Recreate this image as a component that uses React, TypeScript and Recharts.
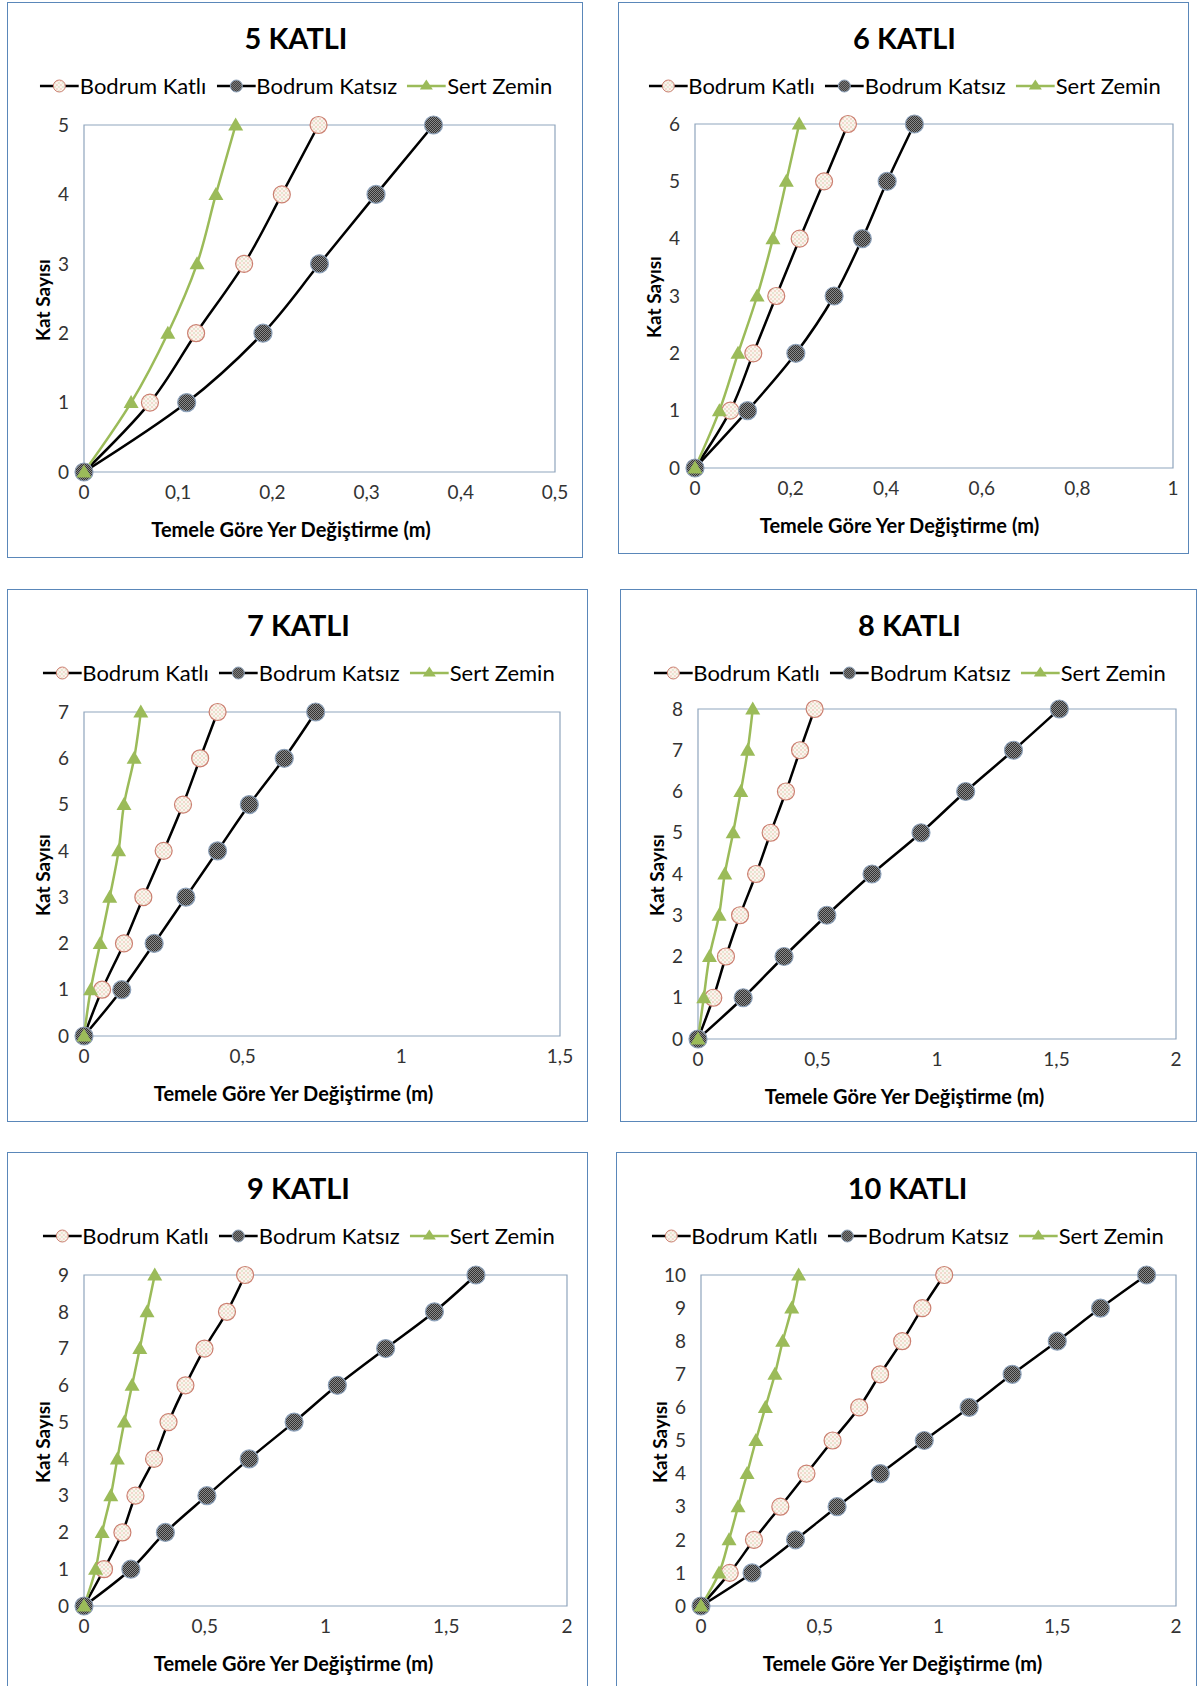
import { LineChart, Line, XAxis, YAxis, ReferenceArea } from "recharts";

// displacement (m) per floor
const katli5 = [0, 0.07, 0.119, 0.17, 0.21, 0.249];
const katsiz5 = [0, 0.109, 0.19, 0.25, 0.31, 0.371];
const sert5 = [0, 0.05, 0.089, 0.12, 0.14, 0.161];

const katli6 = [0, 0.074, 0.122, 0.17, 0.219, 0.27, 0.32];
const katsiz6 = [0, 0.11, 0.211, 0.291, 0.35, 0.402, 0.459];
const sert6 = [0, 0.051, 0.09, 0.13, 0.163, 0.191, 0.218];

const katli7 = [0, 0.057, 0.126, 0.187, 0.251, 0.312, 0.366, 0.421];
const katsiz7 = [0, 0.119, 0.221, 0.321, 0.421, 0.521, 0.631, 0.73];
const sert7 = [0, 0.021, 0.051, 0.081, 0.109, 0.126, 0.158, 0.179];

const katli8 = [0, 0.064, 0.117, 0.176, 0.243, 0.304, 0.368, 0.427, 0.488];
const katsiz8 = [0, 0.189, 0.36, 0.539, 0.728, 0.933, 1.12, 1.32, 1.512];
const sert8 = [0, 0.024, 0.048, 0.088, 0.112, 0.147, 0.179, 0.208, 0.229];

const katli9 = [0, 0.083, 0.159, 0.213, 0.29, 0.35, 0.42, 0.499, 0.592, 0.667];
const katsiz9 = [0, 0.194, 0.337, 0.509, 0.684, 0.87, 1.049, 1.249, 1.451, 1.623];
const sert9 = [0, 0.048, 0.075, 0.111, 0.138, 0.167, 0.199, 0.231, 0.261, 0.293];

const katli10 = [0, 0.121, 0.223, 0.334, 0.444, 0.554, 0.666, 0.754, 0.847, 0.932, 1.024];
const katsiz10 = [0, 0.215, 0.398, 0.573, 0.755, 0.94, 1.129, 1.31, 1.5, 1.682, 1.876];
const sert10 = [0, 0.076, 0.118, 0.156, 0.194, 0.231, 0.271, 0.311, 0.344, 0.382, 0.411];

const xTicks5 = [0, 0.1, 0.2, 0.3, 0.4, 0.5];
const xTicks6 = [0, 0.2, 0.4, 0.6, 0.8, 1];
const xTicks7 = [0, 0.5, 1, 1.5];
const xTicks2 = [0, 0.5, 1, 1.5, 2];

const seriesNames = ["Bodrum Katlı", "Bodrum Katsız", "Sert Zemin"];
const titles = ["5 KATLI", "6 KATLI", "7 KATLI", "8 KATLI", "9 KATLI", "10 KATLI"];
const xTitle = "Temele Göre Yer Değiştirme (m)";
const yTitle = "Kat Sayısı";

const FONT = "Lato, 'Open Sans', sans-serif";
const GREEN = "#9BBB59";

const panels = [
  { title: titles[0], katli: katli5, katsiz: katsiz5, sert: sert5, xTicks: xTicks5, left: 7, top: 2, w: 576, h: 556, plot: { l: 77, t: 123, r: 548, b: 470 } },
  { title: titles[1], katli: katli6, katsiz: katsiz6, sert: sert6, xTicks: xTicks6, left: 618, top: 2, w: 571, h: 552, plot: { l: 77, t: 122, r: 555, b: 466 } },
  { title: titles[2], katli: katli7, katsiz: katsiz7, sert: sert7, xTicks: xTicks7, left: 7, top: 589, w: 581, h: 533, plot: { l: 77, t: 123, r: 553, b: 447 } },
  { title: titles[3], katli: katli8, katsiz: katsiz8, sert: sert8, xTicks: xTicks2, left: 620, top: 589, w: 577, h: 533, plot: { l: 78, t: 120, r: 556, b: 450 } },
  { title: titles[4], katli: katli9, katsiz: katsiz9, sert: sert9, xTicks: xTicks2, left: 7, top: 1152, w: 581, h: 536, plot: { l: 77, t: 123, r: 560, b: 454 } },
  { title: titles[5], katli: katli10, katsiz: katsiz10, sert: sert10, xTicks: xTicks2, left: 616, top: 1152, w: 581, h: 536, plot: { l: 85, t: 123, r: 560, b: 454 } },
];

const fmt = (v: number) => String(v).replace(".", ",");

const KatliDot = (p: any) => (
  <circle key={`a${p.index}`} cx={p.cx} cy={p.cy} r={8.5} fill="url(#katliFill)" stroke="#CB7F70" strokeWidth={1.2} />
);
const KatsizDot = (p: any) => (
  <circle key={`b${p.index}`} cx={p.cx} cy={p.cy} r={9} fill="url(#katsizFill)" stroke="#8EA2BA" strokeWidth={1.2} />
);
const SertDot = (p: any) => (
  <path
    key={`c${p.index}`}
    d={`M${p.cx},${p.cy - 7.5} L${p.cx + 7.5},${p.cy + 5.5} L${p.cx - 7.5},${p.cy + 5.5} Z`}
    fill={GREEN}
  />
);

function LegendIcon({ kind }: { kind: number }) {
  const stroke = kind === 2 ? GREEN : "#000";
  return (
    <svg width={39} height={20} style={{ display: "block" }}>
      <line x1={0} y1={10} x2={39} y2={10} stroke={stroke} strokeWidth={2.5} />
      {kind === 0 && <circle cx={19.5} cy={10} r={6} fill="url(#katliFill)" stroke="#CB7F70" strokeWidth={1} />}
      {kind === 1 && <circle cx={19.5} cy={10} r={6} fill="url(#katsizFill)" stroke="#8EA2BA" strokeWidth={1} />}
      {kind === 2 && <path d="M19.5,3.5 L26,13.5 L13,13.5 Z" fill={GREEN} />}
    </svg>
  );
}

function Panel({ cfg }: { cfg: (typeof panels)[number] }) {
  const n = cfg.katli.length - 1;
  const xMax = cfg.xTicks[cfg.xTicks.length - 1];
  const floors = cfg.katli.map((_, i) => i);
  const rows = floors.map((f) => ({ floor: f, katli: cfg.katli[f], katsiz: cfg.katsiz[f], sert: cfg.sert[f] }));
  const { l, t, r, b } = cfg.plot;
  const yAxisW = 50;
  const xAxisH = 30;
  return (
    <div
      style={{
        position: "absolute",
        left: cfg.left,
        top: cfg.top,
        width: cfg.w,
        height: cfg.h,
        border: "1px solid #5A87B9",
        boxSizing: "border-box",
        background: "#fff",
      }}
    >
      <div style={{ position: "absolute", left: -1, top: -1 }}>
        <LineChart
          width={cfg.w}
          height={cfg.h}
          data={rows}
          layout="vertical"
          margin={{ top: t, left: l - yAxisW, right: cfg.w - r, bottom: cfg.h - b - xAxisH }}
        >
          <XAxis
            type="number"
            domain={[0, xMax]}
            ticks={cfg.xTicks}
            interval={0}
            height={xAxisH}
            axisLine={false}
            tickLine={false}
            tickSize={0}
            tickMargin={14}
            tickFormatter={fmt}
            tick={{ fontSize: 19, fill: "#333", fontFamily: FONT }}
          />
          <YAxis
            type="number"
            dataKey="floor"
            domain={[0, n]}
            ticks={floors}
            interval={0}
            reversed
            width={yAxisW}
            axisLine={false}
            tickLine={false}
            tickSize={0}
            tickMargin={15}
            tick={{ fontSize: 19, fill: "#333", fontFamily: FONT }}
          />
          <ReferenceArea x1={0} x2={xMax} y1={0} y2={n} fill="none" stroke="#8FA5BD" strokeWidth={1.2} />
          <Line
            dataKey="katli"
            name={seriesNames[0]}
            type="monotone"
            stroke="#000"
            strokeWidth={2.5}
            dot={KatliDot}
            isAnimationActive={false}
          />
          <Line
            dataKey="katsiz"
            name={seriesNames[1]}
            type="monotone"
            stroke="#000"
            strokeWidth={2.5}
            dot={KatsizDot}
            isAnimationActive={false}
          />
          <Line
            dataKey="sert"
            name={seriesNames[2]}
            type="monotone"
            stroke={GREEN}
            strokeWidth={2.5}
            dot={SertDot}
            isAnimationActive={false}
          />
        </LineChart>
      </div>
      <div
        style={{
          position: "absolute",
          left: cfg.w / 2,
          top: 34,
          transform: "translate(-50%, -50%)",
          fontSize: 29,
          fontWeight: 700,
          fontFamily: FONT,
          whiteSpace: "nowrap",
          lineHeight: 1,
        }}
      >
        {cfg.title}
      </div>
      <div
        style={{
          position: "absolute",
          left: cfg.w / 2,
          top: 83,
          transform: "translate(-50%, -50%)",
          display: "flex",
          alignItems: "center",
          fontSize: 22,
          fontFamily: FONT,
          whiteSpace: "nowrap",
          lineHeight: 1,
        }}
      >
        {seriesNames.map((s, i) => (
          <div key={s} style={{ display: "flex", alignItems: "center", marginLeft: i ? 10 : 0 }}>
            <LegendIcon kind={i} />
            <span style={{ marginLeft: 1 }}>{s}</span>
          </div>
        ))}
      </div>
      <div
        style={{
          position: "absolute",
          left: cfg.w / 2 - 5,
          top: b + 56,
          transform: "translate(-50%, -50%)",
          fontSize: 20,
          fontWeight: 700,
          fontFamily: FONT,
          whiteSpace: "nowrap",
          lineHeight: 1,
        }}
      >
        {xTitle}
      </div>
      <div
        style={{
          position: "absolute",
          left: l - 43,
          top: (t + b) / 2,
          transform: "translate(-50%, -50%) rotate(-90deg)",
          fontSize: 19,
          fontWeight: 700,
          fontFamily: FONT,
          whiteSpace: "nowrap",
          lineHeight: 1,
        }}
      >
        {yTitle}
      </div>
    </div>
  );
}

export default function App() {
  return (
    <div style={{ position: "absolute", left: 0, top: 0, width: 1197, height: 1686, background: "#fff", overflow: "hidden" }}>
      <svg width={0} height={0} style={{ position: "absolute" }}>
        <defs>
          <pattern id="katliFill" width="4" height="4" patternUnits="userSpaceOnUse">
            <rect width="4" height="4" fill="#FDF4EE" />
            <circle cx="1" cy="1" r="0.8" fill="#E4B7A4" />
            <circle cx="3" cy="3" r="0.8" fill="#C5D7AF" />
          </pattern>
          <pattern id="katsizFill" width="2" height="2" patternUnits="userSpaceOnUse">
            <rect width="2" height="2" fill="#8A8A8A" />
            <rect width="1" height="1" fill="#333333" />
            <rect x="1" y="1" width="1" height="1" fill="#333333" />
          </pattern>
        </defs>
      </svg>
      {panels.map((p) => (
        <Panel key={p.title} cfg={p} />
      ))}
    </div>
  );
}
